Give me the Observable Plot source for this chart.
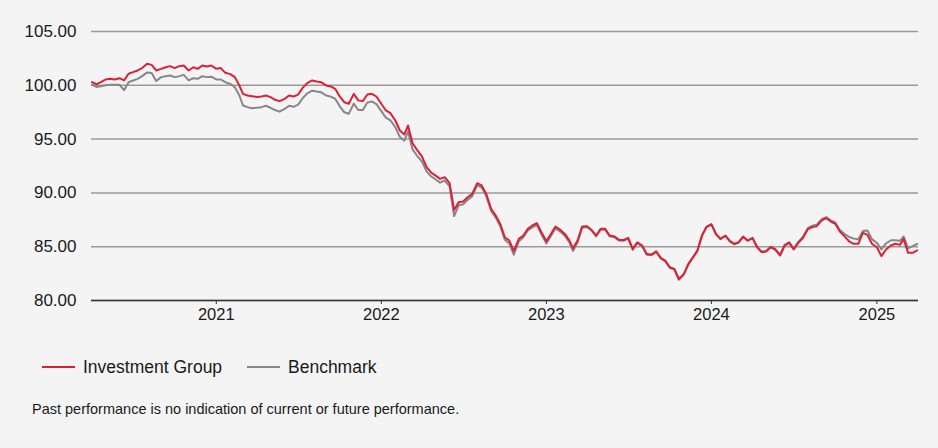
<!DOCTYPE html>
<html><head><meta charset="utf-8">
<script src="https://cdn.jsdelivr.net/npm/d3@7"></script>
<script src="https://cdn.jsdelivr.net/npm/@observablehq/plot@0.6"></script>
<style>
html,body{margin:0;padding:0;background:#f4f4f4;}
body{width:938px;height:448px;position:relative;overflow:hidden;font-family:Arial,"Liberation Sans",sans-serif;color:#1a1a1a;}
#chart{position:absolute;left:0;top:0;}
.item{position:absolute;top:357px;height:20px;line-height:20px;font-size:17.5px;white-space:nowrap;}
.sw{display:inline-block;width:33px;height:2px;vertical-align:middle;margin-right:8px;position:relative;top:-1px;}
#note{position:absolute;left:32px;top:400px;font-size:14.5px;line-height:18px;white-space:nowrap;}
</style></head>
<body>
<div id="chart"></div>
<div class="item" style="left:42px"><span class="sw" style="background:#dc2036"></span>Investment Group</div>
<div class="item" style="left:247px"><span class="sw" style="background:#878787"></span>Benchmark</div>
<div id="note">Past performance is no indication of current or future performance.</div>
<script>
const dates = [
"2020-04-01","2020-04-11","2020-04-21","2020-05-01","2020-05-11","2020-05-21","2020-06-01","2020-06-11","2020-06-21",
"2020-07-01","2020-07-11","2020-07-21","2020-08-01","2020-08-11","2020-08-21","2020-09-01","2020-09-11","2020-09-21",
"2020-10-01","2020-10-11","2020-10-21","2020-11-01","2020-11-11","2020-11-21","2020-12-01","2020-12-11","2020-12-21",
"2021-01-01","2021-01-11","2021-01-21","2021-02-01","2021-02-11","2021-02-21","2021-03-01","2021-03-11","2021-03-21",
"2021-04-01","2021-04-11","2021-04-21","2021-05-01","2021-05-11","2021-05-21","2021-06-01","2021-06-11","2021-06-21",
"2021-07-01","2021-07-11","2021-07-21","2021-08-01","2021-08-11","2021-08-21","2021-09-01","2021-09-11","2021-09-21",
"2021-10-01","2021-10-11","2021-10-21","2021-11-01","2021-11-11","2021-11-21","2021-12-01","2021-12-11","2021-12-21",
"2022-01-01","2022-01-11","2022-01-21","2022-02-01","2022-02-11","2022-02-21","2022-03-01","2022-03-11","2022-03-21",
"2022-04-01","2022-04-11","2022-04-21","2022-05-01","2022-05-11","2022-05-21","2022-06-01","2022-06-11","2022-06-21",
"2022-07-01","2022-07-11","2022-07-21","2022-08-01","2022-08-11","2022-08-21","2022-09-01","2022-09-11","2022-09-21",
"2022-10-01","2022-10-11","2022-10-21","2022-11-01","2022-11-11","2022-11-21","2022-12-01","2022-12-11","2022-12-21",
"2023-01-01","2023-01-11","2023-01-21","2023-02-01","2023-02-11","2023-02-21","2023-03-01","2023-03-11","2023-03-21",
"2023-04-01","2023-04-11","2023-04-21","2023-05-01","2023-05-11","2023-05-21","2023-06-01","2023-06-11","2023-06-21",
"2023-07-01","2023-07-11","2023-07-21","2023-08-01","2023-08-11","2023-08-21","2023-09-01","2023-09-11","2023-09-21",
"2023-10-01","2023-10-11","2023-10-21","2023-11-01","2023-11-11","2023-11-21","2023-12-01","2023-12-11","2023-12-21",
"2024-01-01","2024-01-11","2024-01-21","2024-02-01","2024-02-11","2024-02-21","2024-03-01","2024-03-11","2024-03-21",
"2024-04-01","2024-04-11","2024-04-21","2024-05-01","2024-05-11","2024-05-21","2024-06-01","2024-06-11","2024-06-21",
"2024-07-01","2024-07-11","2024-07-21","2024-08-01","2024-08-11","2024-08-21","2024-09-01","2024-09-11","2024-09-21",
"2024-10-01","2024-10-11","2024-10-21","2024-11-01","2024-11-11","2024-11-21","2024-12-01","2024-12-11","2024-12-21",
"2025-01-01","2025-01-11","2025-01-21","2025-02-01","2025-02-11","2025-02-21","2025-03-01","2025-03-11","2025-03-21","2025-03-31"
];
const fund = [
100.3,100.1,100.29,100.54,100.6,100.54,100.66,100.45,101.07,
101.22,101.38,101.6,102.0,101.9,101.38,101.53,101.68,101.78,
101.6,101.78,101.84,101.38,101.68,101.53,101.84,101.75,101.84,
101.53,101.6,101.16,101.04,100.76,99.98,99.2,99.05,98.99,
98.92,98.96,99.05,98.9,98.65,98.53,98.74,99.05,98.96,
99.14,99.76,100.2,100.45,100.36,100.29,99.98,99.89,99.67,
98.96,98.43,98.28,99.2,98.6,98.53,99.14,99.21,98.96,
98.28,97.66,97.41,96.73,95.8,95.43,96.26,94.62,94.0,
93.38,92.4,91.9,91.6,91.3,91.46,90.9,88.4,89.14,
89.2,89.6,89.91,90.9,90.69,89.91,88.5,87.9,87.12,
85.88,85.57,84.6,85.73,86.04,86.66,86.97,87.18,86.35,
85.5,86.19,86.87,86.56,86.19,85.57,84.85,85.57,86.87,
86.9,86.56,86.04,86.66,86.66,86.04,85.94,85.63,85.63,
85.82,84.8,85.41,85.1,84.33,84.27,84.58,83.96,83.71,
83.09,82.94,82.0,82.47,83.4,84.02,84.64,86.04,86.85,
87.1,86.19,85.73,86.04,85.51,85.26,85.41,85.94,85.57,
85.8,84.95,84.49,84.55,84.95,84.74,84.18,85.11,85.36,
84.74,85.36,85.79,86.6,86.82,86.91,87.44,87.65,87.34,
87.13,86.41,85.98,85.48,85.27,85.27,86.29,86.1,85.27,
84.95,84.12,84.74,85.11,85.27,85.17,85.73,84.43,84.43,84.65
];
const bench = [
100.05,99.85,99.92,100.0,100.04,100.04,100.05,99.55,100.29,
100.45,100.6,100.85,101.2,101.15,100.4,100.76,100.85,100.91,
100.76,100.85,100.97,100.45,100.66,100.6,100.85,100.76,100.8,
100.54,100.54,100.29,100.13,99.82,99.05,98.12,97.97,97.87,
97.92,97.97,98.1,97.9,97.7,97.55,97.8,98.1,98.0,
98.2,98.8,99.25,99.5,99.42,99.35,99.05,98.95,98.75,
98.05,97.5,97.35,98.3,97.7,97.7,98.4,98.5,98.25,
97.6,97.0,96.75,96.1,95.2,94.85,95.7,94.05,93.45,
92.9,92.0,91.55,91.25,90.95,91.15,90.6,87.85,88.85,
88.95,89.35,89.7,90.7,90.5,89.7,88.3,87.7,86.9,
85.65,85.3,84.25,85.5,85.85,86.5,86.8,87.0,86.15,
85.3,86.0,86.7,86.4,86.0,85.4,84.6,85.4,86.75,
86.82,86.5,85.95,86.6,86.58,85.96,85.87,85.57,85.55,
85.75,84.7,85.35,85.02,84.25,84.2,84.5,83.9,83.63,
83.02,82.88,81.93,82.4,83.33,83.95,84.58,85.98,86.8,
87.05,86.15,85.7,86.0,85.47,85.22,85.38,85.9,85.55,
85.82,85.0,84.55,84.6,85.0,84.8,84.25,85.18,85.42,
84.82,85.45,85.9,86.72,86.95,87.05,87.55,87.75,87.45,
87.25,86.56,86.2,85.9,85.75,85.7,86.45,86.5,85.7,
85.35,84.75,85.3,85.6,85.6,85.55,85.95,84.85,85.05,85.25
];
const yTicks = [80, 85, 90, 95, 100, 105];
const xTickDates = ["2021-01-01","2022-01-01","2023-01-01","2024-01-01","2025-01-01"];
const seriesNames = ["Investment Group","Benchmark"];
const colors = ["#dc2036","#878787"];

const rows = dates.map((d, i) => ({date: new Date(d), fund: fund[i], bench: bench[i]}));
const xTicks = xTickDates.map(d => new Date(d));

const chart = Plot.plot({
  width: 938, height: 335,
  marginLeft: 91, marginRight: 20, marginTop: 31, marginBottom: 35,
  style: {background: "transparent", fontFamily: "Arial, 'Liberation Sans', sans-serif", fontSize: "16.5px", color: "#1a1a1a"},
  x: {type: "utc", domain: [new Date("2020-03-31"), new Date("2025-04-03")]},
  y: {domain: [80, 105]},
  marks: [
    Plot.gridY(yTicks, {stroke: "#9a9a9a", strokeOpacity: 1, strokeWidth: 1.5}),
    Plot.axisY(yTicks, {tickSize: 0, tickPadding: 15, tickFormat: d => d.toFixed(2), fontSize: 17, label: null}),
    Plot.axisX(xTicks, {tickSize: 4, tickPadding: 4, tickFormat: d => String(d.getUTCFullYear()), fontSize: 16.5, label: null, stroke: "#333"}),
    Plot.ruleY([80], {stroke: "#333", strokeWidth: 1.5}),
    Plot.lineY(rows, {x: "date", y: "bench", stroke: colors[1], strokeWidth: 2}),
    Plot.lineY(rows, {x: "date", y: "fund", stroke: colors[0], strokeWidth: 2})
  ]
});
document.getElementById("chart").appendChild(chart);
</script>
</body></html>
